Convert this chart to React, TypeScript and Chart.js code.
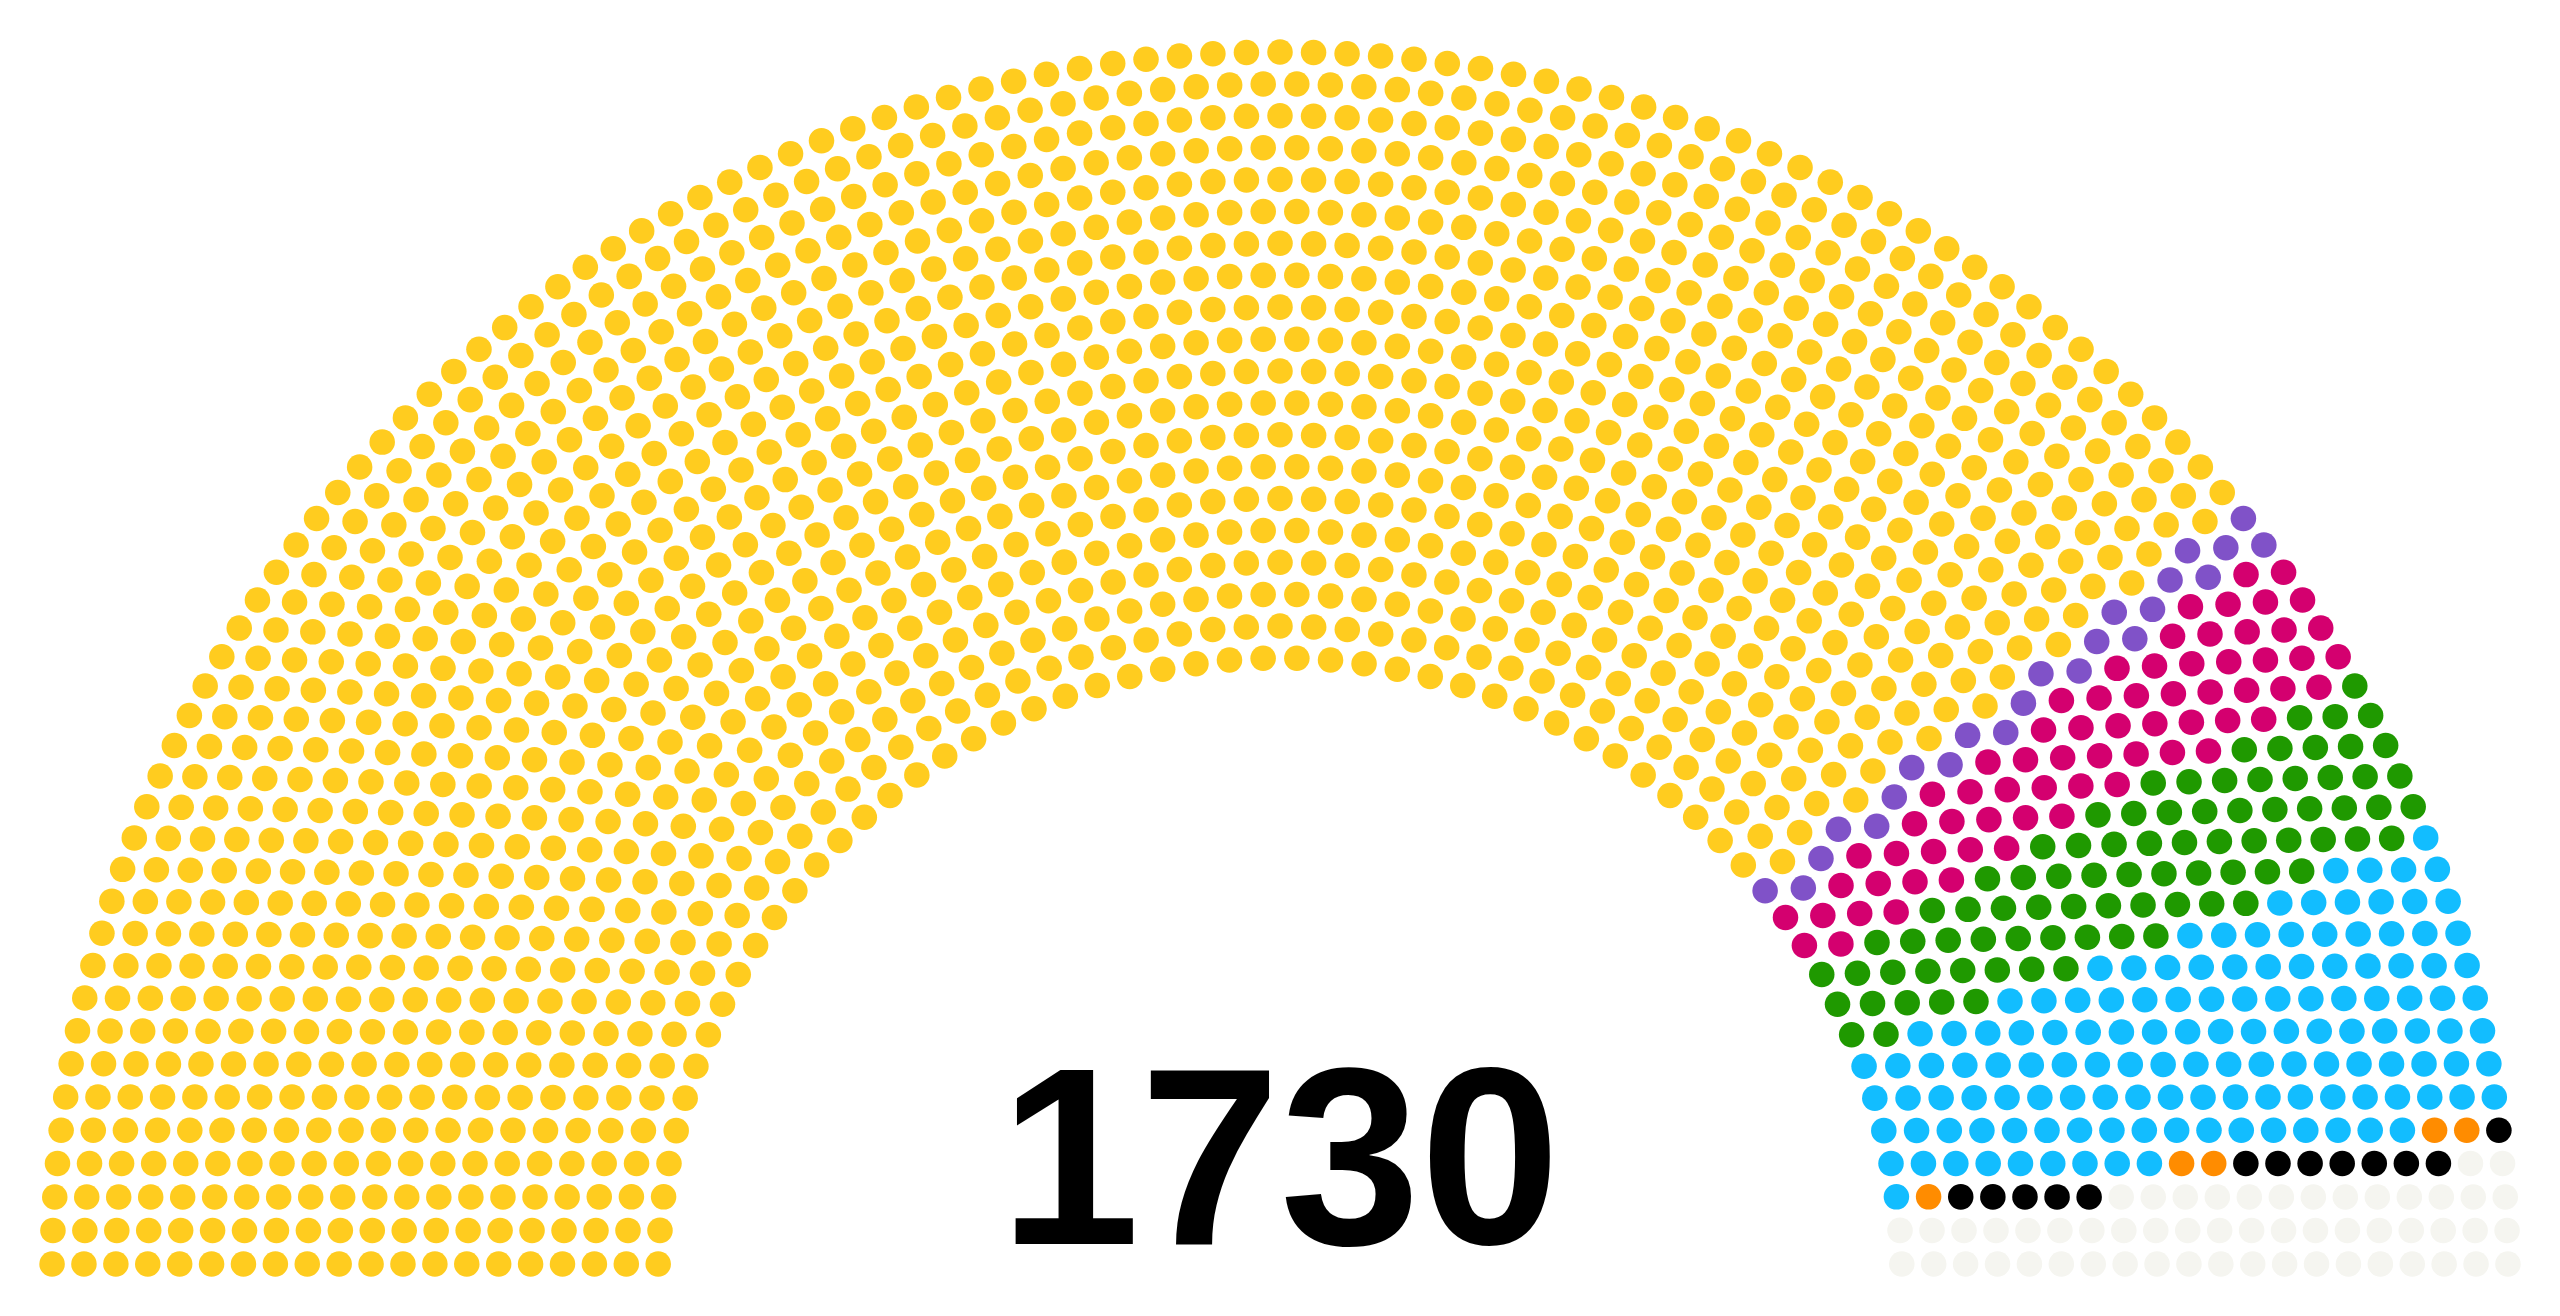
import React, { useEffect, useRef } from 'react';
import { Chart, registerables } from 'chart.js';

Chart.register(...registerables);

// ---- Data ----
const partyNames = ['Party A', 'Party B', 'Party C', 'Party D', 'Party E', 'Party F', 'Party G', 'Vacant'];
const partySeats = [1354, 23, 66, 82, 132, 5, 13, 55];
const partyColors = ['#FFCC1F', '#8052C8', '#D4006F', '#1F9900', '#12BDFF', '#FF8C00', '#000000', '#F5F5F0'];

const W = 2560;
const H = 1316;
const MARGIN = 0.02894; // margin around the unit hemicycle
const SEAT_FACTOR = 0.8;
const TEXT_BASE = 0.029; // baseline of the total label, in hemicycle units
const TEXT_SIZE = 0.2025; // font size in hemicycle units

type Seat = { x: number; y: number; a: number };

function maxedRows(nrows: number): number[] {
  const rad = 1 / (4 * nrows - 2);
  const out: number[] = [];
  for (let r = 0; r < nrows; r++) {
    const R = 0.5 + 2 * r * rad;
    out.push(Math.floor((Math.PI * R) / (2 * rad)));
  }
  return out;
}

function seatCenters(nseats: number): { seats: Seat[]; thick: number } {
  let nrows = 1;
  while (maxedRows(nrows).reduce((a, b) => a + b, 0) < nseats) nrows++;
  const thick = 1 / (4 * nrows - 2);
  const maxed = maxedRows(nrows);
  const ratio = nseats / maxed.reduce((a, b) => a + b, 0);
  const seats: Seat[] = [];
  for (let r = 0; r < nrows; r++) {
    const n = r === nrows - 1 ? nseats - seats.length : Math.round(ratio * maxed[r]);
    const R = 0.5 + 2 * r * thick;
    if (n === 1) {
      seats.push({ x: 0, y: R, a: Math.PI / 2 });
    } else {
      const margin = Math.asin(thick / R);
      const inc = (Math.PI - 2 * margin) / (n - 1);
      for (let s = 0; s < n; s++) {
        const a = margin + s * inc;
        seats.push({ x: R * Math.cos(a), y: R * Math.sin(a), a });
      }
    }
  }
  seats.sort((p, q) => q.a - p.a);
  return { seats, thick };
}

export default function App() {
  const canvasRef = useRef<HTMLCanvasElement | null>(null);

  useEffect(() => {
    const canvas = canvasRef.current;
    if (!canvas) return;
    const total = partySeats.reduce((a, b) => a + b, 0);
    const { seats, thick } = seatCenters(total);
    const unitPx = W / (2 * (1 + MARGIN));
    const seatPx = thick * SEAT_FACTOR * unitPx;

    let start = 0;
    const datasets = partyNames.map((name, i) => {
      const pts = seats.slice(start, start + partySeats[i]).map((p) => ({ x: p.x, y: p.y }));
      start += partySeats[i];
      return {
        label: name,
        data: pts,
        backgroundColor: partyColors[i],
        borderColor: partyColors[i],
        borderWidth: 0,
        pointRadius: seatPx,
        pointHoverRadius: seatPx,
        pointStyle: 'circle' as const,
        clip: false as const,
      };
    });

    const totalLabel = {
      id: 'totalLabel',
      afterDatasetsDraw(chart: any) {
        const { ctx, scales } = chart;
        const xs = scales.x;
        const ys = scales.y;
        const px = xs.getPixelForValue(0);
        const py = ys.getPixelForValue(TEXT_BASE);
        const size = xs.getPixelForValue(TEXT_SIZE) - xs.getPixelForValue(0);
        ctx.save();
        ctx.fillStyle = '#000000';
        ctx.textAlign = 'center';
        ctx.textBaseline = 'alphabetic';
        ctx.font = `bold ${size}px "Liberation Sans", Arial, Helvetica, sans-serif`;
        ctx.fillText(String(total), px, py);
        ctx.restore();
      },
    };

    const chart = new Chart(canvas, {
      type: 'scatter',
      data: { datasets },
      options: {
        animation: false,
        responsive: false,
        devicePixelRatio: 1,
        events: [],
        layout: { padding: 0, autoPadding: false },
        plugins: {
          legend: { display: false },
          tooltip: { enabled: false },
        },
        scales: {
          x: { type: 'linear', min: -(1 + MARGIN), max: 1 + MARGIN, display: false },
          y: { type: 'linear', min: -MARGIN, max: 1 + MARGIN, display: false },
        },
      },
      plugins: [totalLabel],
    });
    return () => chart.destroy();
  }, []);

  return (
    <div style={{ position: 'fixed', left: 0, top: 0, width: W, height: H, background: '#ffffff' }}>
      <canvas ref={canvasRef} width={W} height={H} style={{ display: 'block', width: W, height: H }} />
    </div>
  );
}
